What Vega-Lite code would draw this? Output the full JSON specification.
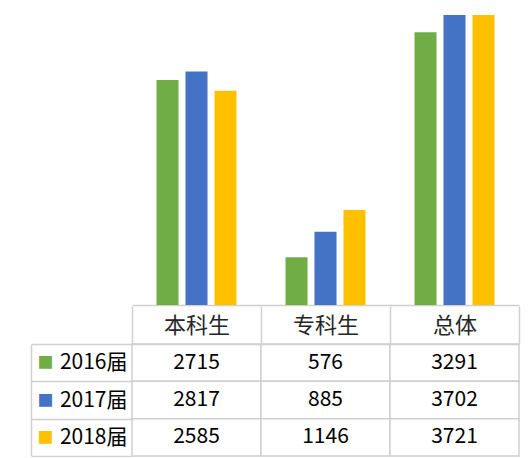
{
  "$schema": "https://vega.github.io/schema/vega-lite/v6.json",
  "padding": {"left": 30, "top": 15, "right": 5, "bottom": 0},
  "datasets": {
    "d": [
      {"cat": "本科生", "year": "2016届", "value": 2715},
      {"cat": "本科生", "year": "2017届", "value": 2817},
      {"cat": "本科生", "year": "2018届", "value": 2585},
      {"cat": "专科生", "year": "2016届", "value": 576},
      {"cat": "专科生", "year": "2017届", "value": 885},
      {"cat": "专科生", "year": "2018届", "value": 1146},
      {"cat": "总体", "year": "2016届", "value": 3291},
      {"cat": "总体", "year": "2017届", "value": 3702},
      {"cat": "总体", "year": "2018届", "value": 3721}
    ]
  },
  "data": {"name": "d"},
  "spacing": 0,
  "config": {"view": {"stroke": null}, "font": "Noto Sans CJK SC"},
  "vconcat": [
    {
      "width": 387,
      "height": 290,
      "mark": {"type": "bar", "clip": true},
      "encoding": {
        "x": {"field": "cat", "type": "nominal", "sort": ["本科生", "专科生", "总体"],
              "scale": {"paddingInner": 0.38, "paddingOuter": 0.19},
              "axis": {"labels": false, "ticks": false, "title": null, "domainColor": "#D0D0D0", "domainWidth": 1.5}},
        "xOffset": {"field": "year", "type": "nominal", "scale": {"paddingInner": 0.24}},
        "y": {"field": "value", "type": "quantitative", "scale": {"domain": [0, 3500]}, "axis": null},
        "color": {"field": "year", "type": "nominal",
                  "scale": {"domain": ["2016届", "2017届", "2018届"], "range": ["#70AD47", "#4472C4", "#FFC000"]},
                  "legend": null}
      }
    },
    {
      "width": 387,
      "height": 112,
      "layer": [
        {
          "mark": {"type": "rect", "fill": "white", "stroke": "#D0D0D0", "strokeWidth": 1.5},
          "encoding": {
            "x": {"field": "cat", "type": "nominal", "sort": ["本科生", "专科生", "总体"],
                  "scale": {"paddingInner": 0, "paddingOuter": 0},
                  "axis": {"orient": "top", "title": null, "tickBand": "extent", "tickSize": 38, "tickColor": "#D0D0D0", "tickWidth": 1.5,
                           "domainColor": "#D0D0D0", "domainWidth": 1.5, "labelPadding": -19, "labelBaseline": "middle",
                           "labelFontSize": 22, "labelColor": "#262626", "labelAngle": 0}},
            "y": {"field": "year", "type": "nominal", "scale": {"paddingInner": 0, "paddingOuter": 0},
                  "axis": {"title": null, "tickBand": "extent", "tickSize": 101, "tickColor": "#D0D0D0", "tickWidth": 1.5,
                           "domain": false, "labelPadding": -96, "labelAlign": "right", "labelFontSize": 21, "labelColor": "black"}}
          }
        },
        {
          "mark": {"type": "text", "fontSize": 21, "color": "black"},
          "encoding": {
            "x": {"field": "cat", "type": "nominal", "sort": ["本科生", "专科生", "总体"]},
            "y": {"field": "year", "type": "nominal", "scale": {"paddingInner": 0, "paddingOuter": 0},
                  "axis": {"orient": "left", "offset": 101, "title": null, "ticks": false, "domainColor": "#D0D0D0", "domainWidth": 1.5,
                           "labelExpr": "'■'", "labelPadding": -22, "labelAlign": "right", "labelFontSize": 16,
                           "labelColor": {"condition": [
                             {"test": "datum.value === '2016届'", "value": "#70AD47"},
                             {"test": "datum.value === '2017届'", "value": "#4472C4"}
                           ], "value": "#FFC000"}}},
            "text": {"field": "value", "type": "quantitative"}
          }
        }
      ],
      "resolve": {"scale": {"y": "independent"}}
    }
  ]
}
